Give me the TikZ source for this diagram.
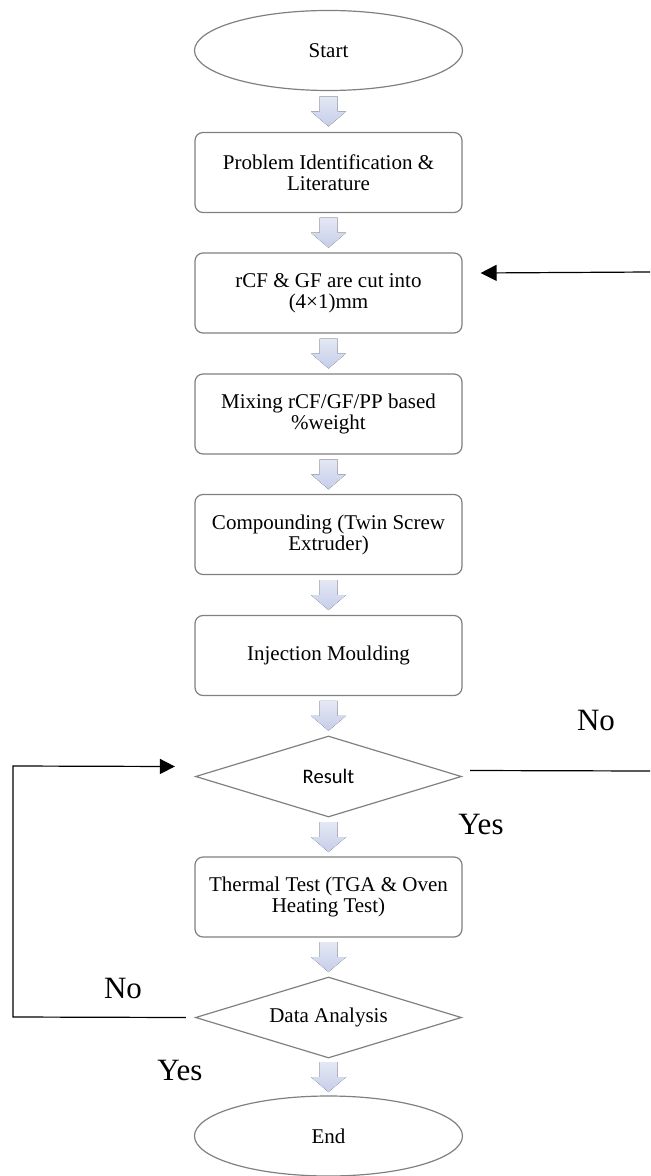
\documentclass[tikz,border=0pt]{standalone}
\usepackage{fontspec}
\setmainfont{Liberation Serif}
\newfontfamily\calibrifont{Carlito}
\usetikzlibrary{shapes.geometric,arrows.meta,calc}
\definecolor{edgegray}{RGB}{128,128,128}
\definecolor{arrtop}{RGB}{228,232,245}
\definecolor{arrbot}{RGB}{198,205,233}
\newcommand\flowarrow[2]{%
  \coordinate (fm) at ($(#1.south)!0.5!(#2.north)$);
  \fill[top color=arrtop,bottom color=arrbot]
    ([shift={(-4.5pt,7.5pt)}]fm) -- ([shift={(4.5pt,7.5pt)}]fm) --
    ([shift={(4.5pt,0pt)}]fm) -- ([shift={(8.75pt,0pt)}]fm) --
    ([shift={(0pt,-7.5pt)}]fm) -- ([shift={(-8.75pt,0pt)}]fm) --
    ([shift={(-4.5pt,0pt)}]fm) -- cycle;}
\begin{document}
\begin{tikzpicture}[x=0.5pt,y=-0.5pt,
  base/.style={draw=edgegray, line width=0.6pt, inner sep=0pt, align=center,
    font=\fontsize{10.5}{10.5}\selectfont},
  procbox/.style={base, rectangle, rounded corners=4pt, minimum width=133.5pt, minimum height=40pt},
  term/.style={base, ellipse, minimum width=134pt, minimum height=40pt},
  decision/.style={base, diamond, aspect=3.3, minimum width=133pt, minimum height=40.5pt},
  conn/.style={line width=0.6pt, draw=black},
  bigl/.style={font=\fontsize{15.5}{18}\selectfont, inner sep=0pt}
]
\useasboundingbox (0,0) rectangle (650,1176);

\node[term] (start) at (328.5,50.5) {Start};
\node[procbox] (p1) at (328.5,172.5) {Problem Identification \&\\Literature};
\node[procbox] (p2) at (328.5,293) {rCF \& GF are cut into\\(4×1)mm};
\node[procbox] (p3) at (328.5,414) {Mixing rCF/GF/PP based\\\%weight};
\node[procbox] (p4) at (328.5,534.5) {Compounding (Twin Screw\\Extruder)};
\node[procbox] (p5) at (328.5,655.5) {Injection Moulding};
\node[decision, font=\calibrifont\fontsize{10.3}{11}\selectfont] (res) at (328.5,776.5) {Result};
\node[procbox] (p6) at (328.5,897) {Thermal Test (TGA \& Oven\\Heating Test)};
\node[decision] (da) at (328.5,1017.5) {Data Analysis};
\node[term] (end) at (328.5,1136) {End};

\flowarrow{start}{p1}
\flowarrow{p1}{p2}
\flowarrow{p2}{p3}
\flowarrow{p3}{p4}
\flowarrow{p4}{p5}
\flowarrow{p5}{res}
\flowarrow{res}{p6}
\flowarrow{p6}{da}
\flowarrow{da}{end}

% right loop (No from Result)
\coordinate (rr) at (650,771);
\coordinate (rt) at (650,272);
\draw[conn] ([shift={(4pt,3pt)}]res.east) -- (rr);
\draw[conn,-{Triangle[length=8pt,width=8pt]}] (rt) -- ([shift={(9pt,10pt)}]p2.east);

% left loop (No from Data Analysis)
\coordinate (lb) at (13,1017);
\coordinate (lt) at (13,766);
\draw[conn,-{Triangle[length=7.5pt,width=7.5pt]}]
  ([xshift=-4.5pt]da.west) -- (lb) -- (lt) -- ([shift={(-10pt,5pt)}]res.west);

\node[bigl] (no1) at (596,720) {No};
\node[bigl] (yes1) at (481,824) {Yes};
\node[bigl] (no2) at (123,988) {No};
\node[bigl] (yes2) at (180,1070) {Yes};
\end{tikzpicture}
\end{document}
